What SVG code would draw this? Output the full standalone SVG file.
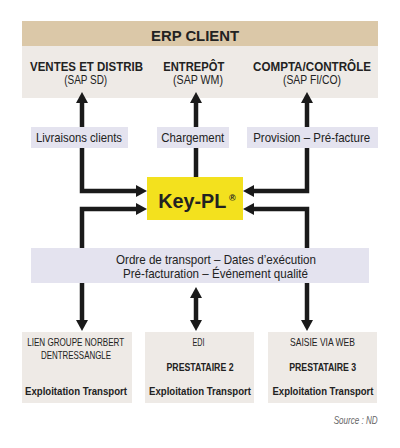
<svg xmlns="http://www.w3.org/2000/svg" width="400" height="448" viewBox="0 0 400 448">
<style>
text{font-family:"Liberation Sans",Arial,sans-serif;fill:#222;text-anchor:middle}
.b{font-weight:bold}
.lbl{fill:#e4e3ef}
.gry{fill:#eeeae6}
.ln{fill:none;stroke:#1a1a1a;stroke-width:4.5;stroke-linejoin:miter}
.ar{marker-end:url(#ah)}
</style>
<defs>
<marker id="ah" markerUnits="userSpaceOnUse" markerWidth="12" markerHeight="12" refX="5" refY="6" orient="auto-start-reverse" viewBox="0 0 12 12">
<path d="M0,0 L11,6 L0,12 z" fill="#1a1a1a"/>
</marker>
</defs>
<rect width="400" height="448" fill="#fff"/>
<g id="erp">
<rect x="22" y="21" width="356" height="25" fill="#dbc8a8"/>
<rect x="22" y="46" width="356" height="52" class="gry"/>
<text x="195" y="41" class="b" font-size="15" textLength="88" lengthAdjust="spacingAndGlyphs">ERP CLIENT</text>
<text x="86.5" y="71" class="b" font-size="12" textLength="113" lengthAdjust="spacingAndGlyphs">VENTES ET DISTRIB</text>
<text x="85.7" y="84" font-size="12" textLength="43" lengthAdjust="spacingAndGlyphs">(SAP SD)</text>
<text x="193.8" y="71" class="b" font-size="12" textLength="61" lengthAdjust="spacingAndGlyphs">ENTREPÔT</text>
<text x="198" y="84" font-size="12" textLength="50" lengthAdjust="spacingAndGlyphs">(SAP WM)</text>
<text x="312" y="71" class="b" font-size="12" textLength="118" lengthAdjust="spacingAndGlyphs">COMPTA/CONTRÔLE</text>
<text x="312" y="84" font-size="12" textLength="58" lengthAdjust="spacingAndGlyphs">(SAP FI/CO)</text>
</g>
<g id="connectors">
<path class="ln ar" d="M82,127 V98"/>
<path class="ln ar" d="M196,127 V98"/>
<path class="ln ar" d="M307,127 V98"/>
<path class="ln ar" d="M82,148 V191 H141"/>
<path class="ln ar" d="M82,248 V209 H141"/>
<path class="ln ar" d="M307,148 V191 H249"/>
<path class="ln ar" d="M307,248 V209 H249"/>
<path class="ln" d="M196,148 V177"/>
<path class="ln ar" d="M82,283 V325"/>
<path class="ln ar" d="M307,283 V325"/>
<path class="ln ar" d="M196,293 V325" marker-start="url(#ah)"/>
</g>
<g id="livraisons">
<rect x="31" y="127" width="97" height="21" class="lbl"/>
<text x="79" y="142" font-size="13" textLength="86" lengthAdjust="spacingAndGlyphs">Livraisons clients</text>
</g>
<g id="chargement">
<rect x="157" y="127" width="72" height="21" class="lbl"/>
<text x="192.7" y="142" font-size="13" textLength="63" lengthAdjust="spacingAndGlyphs">Chargement</text>
</g>
<g id="provision">
<rect x="247" y="127" width="131" height="21" class="lbl"/>
<text x="311.7" y="142" font-size="13" textLength="117" lengthAdjust="spacingAndGlyphs">Provision – Pré-facture</text>
</g>
<g id="keypl">
<rect x="147" y="177" width="96" height="43" fill="#f3e11e"/>
<text x="192.3" y="208" class="b" font-size="20.5" textLength="68" lengthAdjust="spacingAndGlyphs">Key-PL</text>
<text x="229" y="200.5" class="b" font-size="9" style="text-anchor:start">®</text>
</g>
<g id="ordre">
<rect x="31" y="248" width="338" height="35" class="lbl"/>
<text x="216" y="264" font-size="13" textLength="200" lengthAdjust="spacingAndGlyphs">Ordre de transport – Dates d’exécution</text>
<text x="215.5" y="277.5" font-size="13" textLength="185" lengthAdjust="spacingAndGlyphs">Pré-facturation – Événement qualité</text>
</g>
<g id="presta1">
<rect x="22" y="332" width="110" height="71" class="gry"/>
<text x="75.7" y="346" font-size="10.5" textLength="97" lengthAdjust="spacingAndGlyphs">LIEN GROUPE NORBERT</text>
<text x="76" y="359" font-size="10.5" textLength="70" lengthAdjust="spacingAndGlyphs">DENTRESSANGLE</text>
<text x="76" y="394.5" class="b" font-size="11.5" textLength="102" lengthAdjust="spacingAndGlyphs">Exploitation Transport</text>
</g>
<g id="presta2">
<rect x="145" y="332" width="109" height="71" class="gry"/>
<text x="198.5" y="346" font-size="10.5" textLength="12" lengthAdjust="spacingAndGlyphs">EDI</text>
<text x="200" y="371" class="b" font-size="11.5" textLength="67" lengthAdjust="spacingAndGlyphs">PRESTATAIRE 2</text>
<text x="200" y="394.5" class="b" font-size="11.5" textLength="102" lengthAdjust="spacingAndGlyphs">Exploitation Transport</text>
</g>
<g id="presta3">
<rect x="268" y="332" width="109" height="71" class="gry"/>
<text x="322.5" y="346" font-size="10.5" textLength="65" lengthAdjust="spacingAndGlyphs">SAISIE VIA WEB</text>
<text x="322.7" y="371" class="b" font-size="11.5" textLength="67" lengthAdjust="spacingAndGlyphs">PRESTATAIRE 3</text>
<text x="323" y="394.5" class="b" font-size="11.5" textLength="101" lengthAdjust="spacingAndGlyphs">Exploitation Transport</text>
</g>
<text x="377.7" y="424" font-size="10.5" font-style="italic" textLength="44" lengthAdjust="spacingAndGlyphs" style="text-anchor:end;fill:#666">Source : ND</text>
</svg>
